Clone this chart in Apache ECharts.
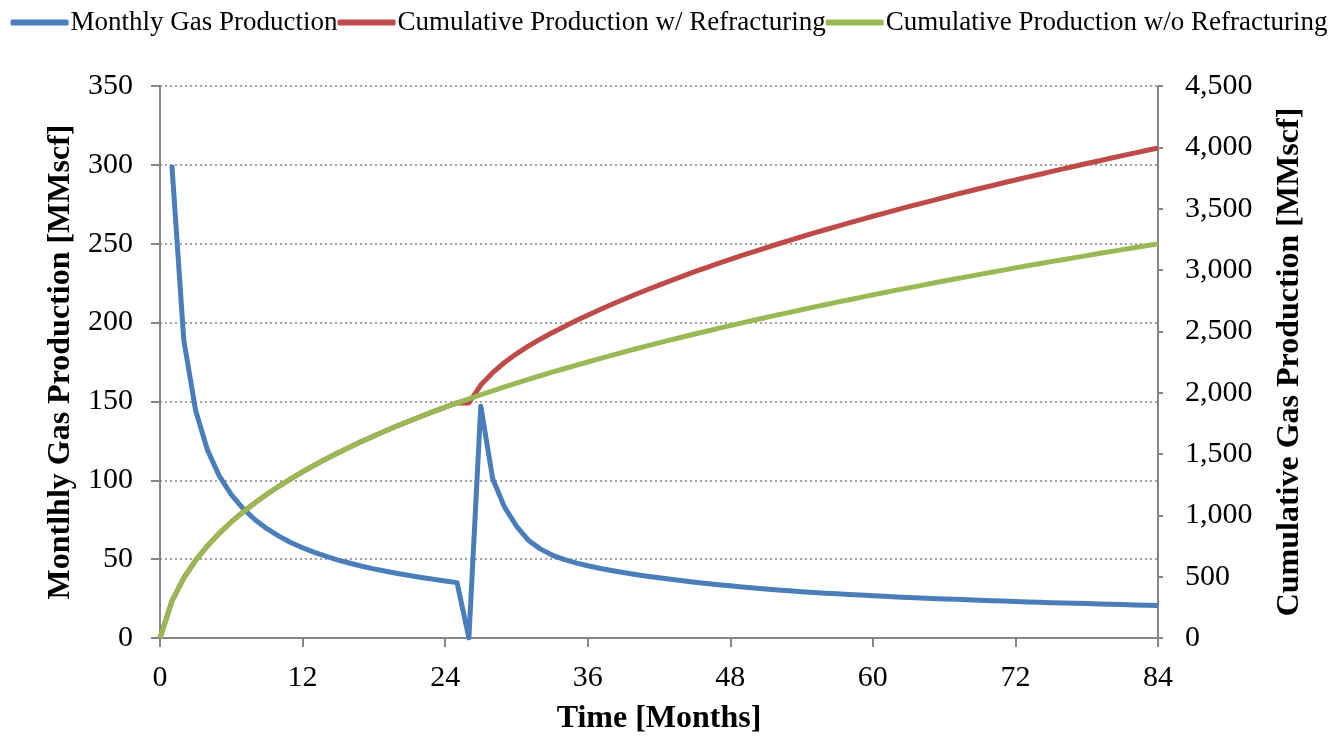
<!DOCTYPE html>
<html>
<head>
<meta charset="utf-8">
<script src="https://cdn.jsdelivr.net/npm/echarts@6/dist/echarts.min.js"></script>
<style>
html,body{margin:0;padding:0;background:#fff;}
#chart{width:1338px;height:736px;}
</style>
</head>
<body>
<div id="chart"></div>
<script>
var months = [0,1,2,3,4,5,6,7,8,9,10,11,12,13,14,15,16,17,18,19,20,21,22,23,24,25,26,27,28,29,30,31,32,33,34,35,36,37,38,39,40,41,42,43,44,45,46,47,48,49,50,51,52,53,54,55,56,57,58,59,60,61,62,63,64,65,66,67,68,69,70,71,72,73,74,75,76,77,78,79,80,81,82,83,84];
var monthlyGas = [null,300,189,144.2,119.1,102.6,90.9,82,75,69.3,64.6,60.6,57.2,54.3,51.7,49.4,47.4,45.5,43.8,42.3,40.9,39.6,38.4,37.3,36.2,35.1,0,147,101,83,71,62,56.5,52.6,49.8,47.6,45.8,44.2,42.8,41.5,40.3,39.2,38.2,37.2,36.3,35.4,34.6,33.8,33.1,32.4,31.7,31,30.4,29.9,29.4,28.9,28.4,28,27.6,27.2,26.8,26.4,26,25.7,25.4,25.1,24.8,24.5,24.2,23.9,23.6,23.4,23.1,22.9,22.6,22.4,22.2,22,21.8,21.6,21.4,21.2,21,20.8,20.6];
var cumWithRefrac = [0,300,489,633,752,855,946,1028,1103,1172,1237,1297,1355,1409,1461,1510,1557,1603,1647,1689,1730,1769,1808,1845,1881,1916,1916,2062,2163,2246,2317,2379,2436,2488,2538,2586,2632,2676,2719,2760,2800,2839,2877,2914,2950,2986,3020,3054,3086,3119,3150,3181,3212,3242,3271,3300,3328,3356,3384,3411,3438,3464,3490,3516,3541,3566,3591,3616,3640,3664,3687,3711,3734,3757,3779,3802,3824,3846,3868,3889,3911,3932,3953,3974,3994];
var cumWithoutRefrac = [0,300,489,633,752,855,946,1028,1103,1172,1237,1297,1355,1409,1461,1510,1557,1603,1647,1689,1730,1769,1808,1845,1881,1916,1950,1983,2015,2047,2078,2108,2138,2167,2195,2223,2250,2277,2304,2330,2356,2381,2406,2430,2454,2478,2501,2524,2547,2569,2591,2613,2634,2655,2676,2697,2717,2738,2758,2777,2797,2816,2836,2854,2873,2892,2910,2928,2946,2964,2982,2999,3017,3034,3051,3068,3084,3101,3117,3134,3150,3166,3182,3198,3213];
var seriesNames = ['Monthly Gas Production','Cumulative Production w/ Refracturing','Cumulative Production w/o Refracturing'];
var xTitle = 'Time [Months]';
var yLeftTitle = 'Montlhly Gas Production [MMscf]';
var yRightTitle = 'Cumulative Gas Production [MMscf]';

function pairs(vals){ return months.map(function(m,i){ return [m, vals[i]]; }); }

var FONT = "'Liberation Serif','Times New Roman',serif";
var AX = '#868686';
var chart = echarts.init(document.getElementById('chart'));
chart.setOption({
  animation:false,
  backgroundColor:'#fff',
  textStyle:{fontFamily:FONT,color:'#000'},
  legend:{
    top:4, left:'center',
    itemWidth:58, itemHeight:6, itemGap:0,
    icon:'roundRect',
    textStyle:{fontFamily:FONT,fontSize:27,color:'#000',padding:[0,0,0,-3]},
    data:seriesNames
  },
  grid:{left:160,right:180,top:86,bottom:98,containLabel:false,outerBoundsMode:'none'},
  xAxis:{
    type:'value',min:0,max:84,interval:12,
    name:xTitle,nameLocation:'middle',nameGap:65,
    nameTextStyle:{fontFamily:FONT,fontSize:32,fontWeight:'bold',color:'#000'},
    axisLine:{show:true,lineStyle:{color:AX,width:2}},
    axisTick:{show:true,length:9,inside:false,lineStyle:{color:AX,width:2}},
    axisLabel:{fontFamily:FONT,fontSize:30,color:'#000',margin:25},
    splitLine:{show:false}
  },
  yAxis:[{
    type:'value',min:0,max:350,interval:50,position:'left',
    name:yLeftTitle,nameLocation:'middle',nameGap:82,nameRotate:90,
    nameTextStyle:{fontFamily:FONT,fontSize:32,fontWeight:'bold',color:'#000'},
    axisLine:{show:true,lineStyle:{color:AX,width:2}},
    axisTick:{show:true,length:9,lineStyle:{color:AX,width:2}},
    axisLabel:{fontFamily:FONT,fontSize:30,color:'#000',margin:27},
    splitLine:{show:true,lineStyle:{color:AX,width:1.5,type:[2,3]}}
  },{
    type:'value',min:0,max:4500,interval:500,position:'right',
    name:yRightTitle,nameLocation:'middle',nameGap:116,nameRotate:90,
    nameTextStyle:{fontFamily:FONT,fontSize:32,fontWeight:'bold',color:'#000'},
    axisLine:{show:true,lineStyle:{color:AX,width:2}},
    axisTick:{show:true,length:5,lineStyle:{color:AX,width:2}},
    axisLabel:{fontFamily:FONT,fontSize:30,color:'#000',margin:27,
      formatter:function(v){return v.toLocaleString('en-US');}},
    splitLine:{show:false}
  }],
  series:[{
    name:seriesNames[0],type:'line',yAxisIndex:0,data:pairs(monthlyGas),
    showSymbol:false,symbol:'none',color:'#4A7EBB',
    lineStyle:{width:5,color:'#4A7EBB',join:'round'}
  },{
    name:seriesNames[1],type:'line',yAxisIndex:1,data:pairs(cumWithRefrac),
    showSymbol:false,symbol:'none',color:'#BE4B48',
    lineStyle:{width:5,color:'#BE4B48',join:'round'}
  },{
    name:seriesNames[2],type:'line',yAxisIndex:1,data:pairs(cumWithoutRefrac),
    showSymbol:false,symbol:'none',color:'#98B954',
    lineStyle:{width:5,color:'#98B954',join:'round'}
  }]
});
</script>
</body>
</html>
